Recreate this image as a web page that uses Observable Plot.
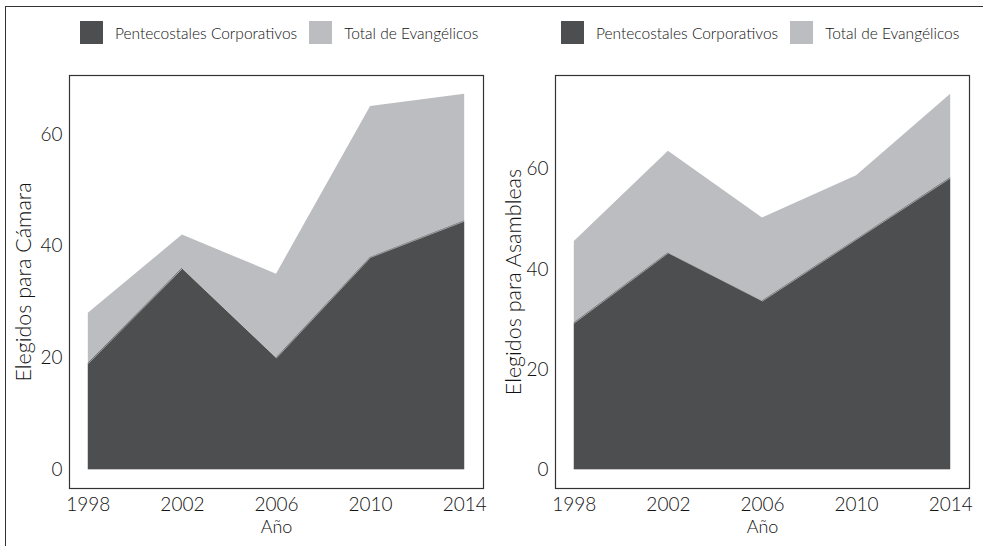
<!DOCTYPE html>
<html>
<head>
<meta charset="utf-8">
<script src="https://cdn.jsdelivr.net/npm/d3@7"></script>
<script src="https://cdn.jsdelivr.net/npm/@observablehq/plot@0.6"></script>
<style>
  html, body { margin: 0; padding: 0; background: #fff; overflow: hidden; }
  body { width: 983px; height: 546px; position: relative; font-family: Lato, "Open Sans", sans-serif; color: #111; }
  #border { position: absolute; left: 5px; top: 6px; width: 1200px; height: 800px; border-left: 1.3px solid #333; border-top: 1.3px solid #333; }
  .panel { position: absolute; top: 0; }
  .legend { position: absolute; top: 21px; display: flex; align-items: center; font-size: 15.5px; font-weight: 300; white-space: nowrap; }
  .sw { width: 23px; height: 23px; display: inline-block; }
  .plot { position: absolute; top: 50px; left: 0; }
  .plot text { font-weight: 300; }
</style>
</head>
<body>
<div id="border"></div>
<div id="left" class="panel" style="left:0px;width:490px;height:546px;"></div>
<div id="right" class="panel" style="left:490px;width:493px;height:546px;"></div>
<script>
const years = [1998, 2002, 2006, 2010, 2014];
const camaraPentecostales = [19, 36, 20, 38, 44.5];
const camaraTotal = [28, 42, 35, 65, 67.2];
const asambleasPentecostales = [29.3, 43.3, 33.7, 46, 58.3];
const asambleasTotal = [45.6, 63.6, 50.3, 58.7, 75];
const yTicks = [0, 20, 40, 60];
const seriesNames = ["Pentecostales Corporativos", "Total de Evangélicos"];
const colors = ["#4d4e50", "#bcbdc0"];

function legend(container, left, gapX) {
  const div = document.createElement("div");
  div.className = "legend";
  div.style.left = left + "px";
  seriesNames.forEach((name, i) => {
    const sw = document.createElement("span");
    sw.className = "sw";
    sw.style.background = colors[i];
    sw.style.marginLeft = i === 0 ? "0px" : gapX + "px";
    const t = document.createElement("span");
    t.textContent = name;
    t.style.marginLeft = "12px";
    div.appendChild(sw);
    div.appendChild(t);
  });
  container.appendChild(div);
}

function panel(containerId, opts) {
  const {pent, total, label, width, marginLeft, marginRight, yDomain, labelOffset, legendLeft} = opts;
  const container = document.getElementById(containerId);
  legend(container, legendLeft, 12);
  const rowsTotal = years.map((y, i) => ({year: y, value: total[i]}));
  const rowsPent = years.map((y, i) => ({year: y, value: pent[i]}));
  const chart = Plot.plot({
    width,
    height: 496,
    marginLeft,
    marginRight,
    marginTop: 25,
    marginBottom: 58,
    style: {fontFamily: "Lato, 'Open Sans', sans-serif", color: "#111", background: "transparent"},
    x: {domain: [1997.2, 2014.8]},
    y: {domain: yDomain},
    marks: [
      Plot.areaY(rowsTotal, {x: "year", y: "value", fill: colors[1]}),
      Plot.areaY(rowsPent, {x: "year", y: "value", fill: colors[0]}),
      Plot.lineY(rowsPent, {x: "year", y: "value", stroke: "#fff", strokeWidth: 0.6, strokeOpacity: 0.8}),
      Plot.frame({stroke: "#333", strokeWidth: 1.2}),
      Plot.axisY(yTicks, {anchor: "left", tickSize: 0, tickPadding: 7, fontSize: 19, label: null}),
      Plot.axisY([], {anchor: "left", tickSize: 0, fontSize: 21.5, label, labelAnchor: "center", labelArrow: "none", labelOffset}),
      Plot.axisX(years, {anchor: "bottom", tickSize: 0, tickPadding: 9, fontSize: 19, tickFormat: "d", label: null}),
      Plot.axisX([], {anchor: "bottom", tickSize: 0, label: "Año", labelAnchor: "center", labelArrow: "none", labelOffset: 44, fontSize: 18})
    ]
  });
  chart.classList.add("plot");
  chart.style.position = "absolute";
  chart.style.top = "50px";
  chart.style.left = "0px";
  container.appendChild(chart);
}

panel("left", {pent: camaraPentecostales, total: camaraTotal, label: "Elegidos para Cámara", width: 490, marginLeft: 69, marginRight: 7, yDomain: [-3.36, 70.56], labelOffset: 54, legendLeft: 80});
panel("right", {pent: asambleasPentecostales, total: asambleasTotal, label: "Elegidos para Asambleas", width: 493, marginLeft: 65, marginRight: 14, yDomain: [-3.75, 78.75], labelOffset: 50, legendLeft: 71});
</script>
</body>
</html>
